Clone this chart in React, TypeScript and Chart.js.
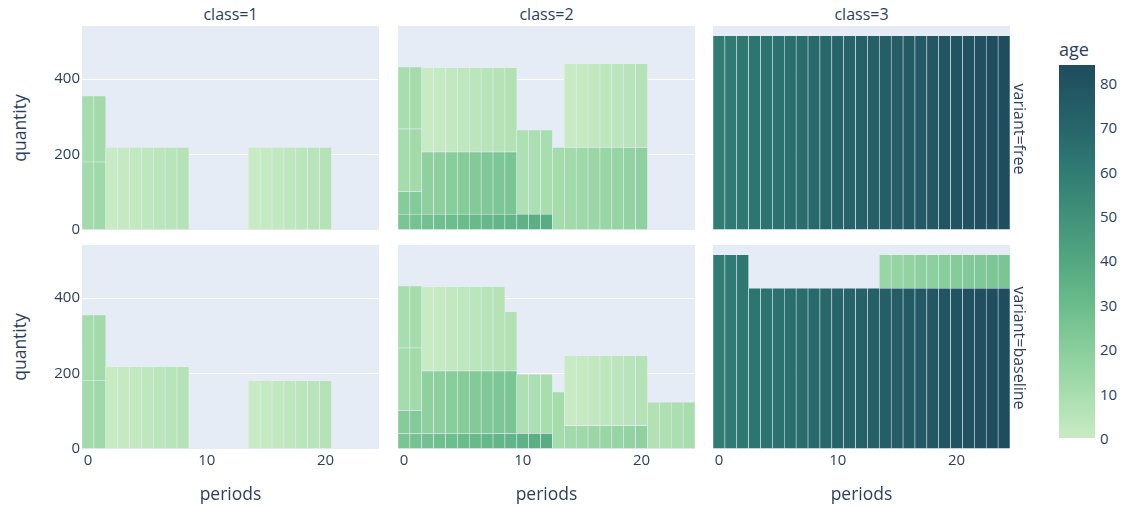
import React, { useEffect, useRef } from 'react';
import { Chart, registerables } from 'chart.js';

Chart.register(...registerables);
Chart.defaults.font.family = "'Open Sans', verdana, arial, sans-serif";

const n = null;

// ---- categories & labels ----
const PERIODS = ['0', '1', '2', '3', '4', '5', '6', '7', '8', '9', '10', '11', '12', '13', '14', '15', '16', '17', '18', '19', '20', '21', '22', '23', '24'];
const X_TICK_LABELS = ['0', '10', '20'];
const Y_TICK_VALUES = [0, 200, 400];
const AGE_TICK_VALUES = [0, 10, 20, 30, 40, 50, 60, 70, 80];
const CLASS_LABELS = ['class=1', 'class=2', 'class=3'];
const VARIANT_LABELS = ['variant=free', 'variant=baseline'];

// ---- class 1, variant free ----
const c1FreeQty1 = [180, 180, 219, 219, 219, 219, 219, 219, 219, n, n, n, n, n, 219, 219, 219, 219, 219, 219, 219, n, n, n, n];
const c1FreeAge1 = [12, 13, 0, 1, 2, 3, 4, 5, 6, n, n, n, n, n, 0, 1, 2, 3, 4, 5, 6, n, n, n, n];
const c1FreeQty2 = [175, 175, n, n, n, n, n, n, n, n, n, n, n, n, n, n, n, n, n, n, n, n, n, n, n];
const c1FreeAge2 = [11, 12, n, n, n, n, n, n, n, n, n, n, n, n, n, n, n, n, n, n, n, n, n, n, n];

// ---- class 1, variant baseline ----
const c1BaseQty1 = [181, 181, 218, 218, 218, 218, 218, 218, 218, n, n, n, n, n, 181, 181, 181, 181, 181, 181, 181, n, n, n, n];
const c1BaseAge1 = [12, 13, 0, 1, 2, 3, 4, 5, 6, n, n, n, n, n, 0, 1, 2, 3, 4, 5, 6, n, n, n, n];
const c1BaseQty2 = [174, 174, n, n, n, n, n, n, n, n, n, n, n, n, n, n, n, n, n, n, n, n, n, n, n];
const c1BaseAge2 = [11, 12, n, n, n, n, n, n, n, n, n, n, n, n, n, n, n, n, n, n, n, n, n, n, n];

// ---- class 2, variant free ----
const c2FreeQty1 = [42, 42, 42, 42, 42, 42, 42, 42, 42, 42, 42, 42, 42, 219, 219, 219, 219, 219, 219, 219, 219, n, n, n, n];
const c2FreeAge1 = [25, 26, 27, 28, 29, 30, 31, 32, 33, 34, 35, 36, 37, 11, 12, 13, 14, 15, 16, 17, 18, n, n, n, n];
const c2FreeQty2 = [60, 60, 165, 165, 165, 165, 165, 165, 165, 165, 223, 223, 223, n, 222, 222, 222, 222, 222, 222, 222, n, n, n, n];
const c2FreeAge2 = [21, 22, 18, 19, 20, 21, 22, 23, 24, 25, 8, 9, 10, n, 0, 1, 2, 3, 4, 5, 6, n, n, n, n];
const c2FreeQty3 = [166, 166, 223, 223, 223, 223, 223, 223, 223, 223, n, n, n, n, n, n, n, n, n, n, n, n, n, n, n];
const c2FreeAge3 = [11, 12, 0, 1, 2, 3, 4, 5, 6, 7, n, n, n, n, n, n, n, n, n, n, n, n, n, n, n];
const c2FreeQty4 = [164, 164, n, n, n, n, n, n, n, n, n, n, n, n, n, n, n, n, n, n, n, n, n, n, n];
const c2FreeAge4 = [10, 11, n, n, n, n, n, n, n, n, n, n, n, n, n, n, n, n, n, n, n, n, n, n, n];

// ---- class 2, variant baseline ----
const c2BaseQty1 = [41, 41, 41, 41, 41, 41, 41, 41, 41, 41, 41, 41, 41, 151, 62, 62, 62, 62, 62, 62, 62, 124, 124, 124, 124];
const c2BaseAge1 = [25, 26, 27, 28, 29, 30, 31, 32, 33, 34, 35, 36, 37, 11, 12, 13, 14, 15, 16, 17, 18, 7, 8, 9, 10];
const c2BaseQty2 = [61, 61, 166, 166, 166, 166, 166, 166, 166, 166, 157, 157, 157, n, 185, 185, 185, 185, 185, 185, 185, n, n, n, n];
const c2BaseAge2 = [21, 22, 18, 19, 20, 21, 22, 23, 24, 25, 8, 9, 10, n, 0, 1, 2, 3, 4, 5, 6, n, n, n, n];
const c2BaseQty3 = [166, 166, 223, 223, 223, 223, 223, 223, 223, 157, n, n, n, n, n, n, n, n, n, n, n, n, n, n, n];
const c2BaseAge3 = [11, 12, 0, 1, 2, 3, 4, 5, 6, 7, n, n, n, n, n, n, n, n, n, n, n, n, n, n, n];
const c2BaseQty4 = [164, 164, n, n, n, n, n, n, n, n, n, n, n, n, n, n, n, n, n, n, n, n, n, n, n];
const c2BaseAge4 = [10, 11, n, n, n, n, n, n, n, n, n, n, n, n, n, n, n, n, n, n, n, n, n, n, n];

// ---- class 3, variant free ----
const c3FreeQty1 = [515, 515, 515, 515, 515, 515, 515, 515, 515, 515, 515, 515, 515, 515, 515, 515, 515, 515, 515, 515, 515, 515, 515, 515, 515];
const c3FreeAge1 = [60, 61, 62, 63, 64, 65, 66, 67, 68, 69, 70, 71, 72, 73, 74, 75, 76, 77, 78, 79, 80, 81, 82, 83, 84];

// ---- class 3, variant baseline ----
const c3BaseQty1 = [515, 515, 515, 426, 426, 426, 426, 426, 426, 426, 426, 426, 426, 426, 426, 426, 426, 426, 426, 426, 426, 426, 426, 426, 426];
const c3BaseAge1 = [60, 61, 62, 63, 64, 65, 66, 67, 68, 69, 70, 71, 72, 73, 74, 75, 76, 77, 78, 79, 80, 81, 82, 83, 84];
const c3BaseQty2 = [n, n, n, n, n, n, n, n, n, n, n, n, n, n, 89, 89, 89, 89, 89, 89, 89, 89, 89, 89, 89];
const c3BaseAge2 = [n, n, n, n, n, n, n, n, n, n, n, n, n, n, 15, 16, 17, 18, 19, 20, 21, 22, 23, 24, 25];

// ---- colour scale (age -> colour) ----
const AGE_COLOR_STOPS: [number, number, number, number][] = [
  [0, 200, 235, 195],
  [10, 168, 221, 174],
  [20, 136, 206, 155],
  [30, 106, 188, 139],
  [40, 82, 167, 128],
  [50, 65, 145, 121],
  [60, 48, 124, 115],
  [70, 38, 102, 106],
  [80, 33, 83, 97],
  [85, 30, 76, 93],
];

type Layer = { q: (number | null)[]; a: (number | null)[] };

const PANELS: Layer[][][] = [
  [
    [{ q: c1FreeQty1, a: c1FreeAge1 }, { q: c1FreeQty2, a: c1FreeAge2 }],
    [{ q: c2FreeQty1, a: c2FreeAge1 }, { q: c2FreeQty2, a: c2FreeAge2 }, { q: c2FreeQty3, a: c2FreeAge3 }, { q: c2FreeQty4, a: c2FreeAge4 }],
    [{ q: c3FreeQty1, a: c3FreeAge1 }],
  ],
  [
    [{ q: c1BaseQty1, a: c1BaseAge1 }, { q: c1BaseQty2, a: c1BaseAge2 }],
    [{ q: c2BaseQty1, a: c2BaseAge1 }, { q: c2BaseQty2, a: c2BaseAge2 }, { q: c2BaseQty3, a: c2BaseAge3 }, { q: c2BaseQty4, a: c2BaseAge4 }],
    [{ q: c3BaseQty1, a: c3BaseAge1 }, { q: c3BaseQty2, a: c3BaseAge2 }],
  ],
];

// derived ranges
let maxTotal = 0;
let minAge = Infinity;
let maxAge = -Infinity;
PANELS.forEach((row) => row.forEach((layers) => {
  for (let i = 0; i < PERIODS.length; i++) {
    let t = 0;
    layers.forEach((l) => { t += l.q[i] ?? 0; });
    maxTotal = Math.max(maxTotal, t);
  }
  layers.forEach((l) => l.a.forEach((v) => { if (v != null) { minAge = Math.min(minAge, v); maxAge = Math.max(maxAge, v); } }));
}));
const Y_MAX = maxTotal * 1.05;

function ageColor(age: number): string {
  const s = AGE_COLOR_STOPS;
  if (age <= s[0][0]) return `rgb(${s[0][1]},${s[0][2]},${s[0][3]})`;
  for (let i = 1; i < s.length; i++) {
    if (age <= s[i][0]) {
      const t = (age - s[i - 1][0]) / (s[i][0] - s[i - 1][0]);
      const c = [1, 2, 3].map((k) => Math.round(s[i - 1][k] + t * (s[i][k] - s[i - 1][k])));
      return `rgb(${c[0]},${c[1]},${c[2]})`;
    }
  }
  const l = s[s.length - 1];
  return `rgb(${l[1]},${l[2]},${l[3]})`;
}

// ---- layout ----
const PLOT_W = 297;
const PLOT_H = 204;
const COL_LEFT = [82, 398, 713];
const ROW_TOP = [26, 245];
const TEXT = '#2a3f5f';
const BG = '#E5ECF6';
const CB_LEFT = 1059;
const CB_WIDTH = 36;
const CB_TOP = 65;
const CB_BOTTOM = 438;
const TICK_SIZE = 15;

const bgPlugin = {
  id: 'plotBg',
  beforeDraw(chart: any) {
    const { ctx, chartArea } = chart;
    ctx.save();
    ctx.fillStyle = BG;
    ctx.fillRect(chartArea.left, chartArea.top, chartArea.right - chartArea.left, chartArea.bottom - chartArea.top);
    ctx.restore();
  },
};

function Panel({ row, col }: { row: number; col: number }) {
  const ref = useRef<HTMLCanvasElement>(null);
  const showY = col === 0;
  const showX = row === 1;
  const L = showY ? 50 : 0;
  const B = showX ? 36 : 12;
  const w = PLOT_W + L;
  const h = PLOT_H + B;
  useEffect(() => {
    const layers = PANELS[row][col];
    const chart = new Chart(ref.current as HTMLCanvasElement, {
      type: 'bar',
      data: {
        labels: PERIODS,
        datasets: layers.map((l) => ({
          data: l.q as any,
          backgroundColor: l.a.map((a) => (a == null ? 'rgba(0,0,0,0)' : ageColor(a))),
          borderColor: BG,
          borderWidth: 0.6,
          borderSkipped: false,
          categoryPercentage: 1,
          barPercentage: 1,
        })),
      },
      options: {
        responsive: false,
        animation: false,
        devicePixelRatio: 1,
        events: [],
        layout: { padding: 0 },
        plugins: { legend: { display: false }, tooltip: { enabled: false } },
        scales: {
          x: {
            stacked: true,
            grid: { display: false, drawTicks: false },
            border: { display: false },
            ticks: {
              display: showX,
              autoSkip: false,
              maxRotation: 0,
              padding: 3,
              color: TEXT,
              font: { size: TICK_SIZE },
              callback: (_v: any, i: number) => (X_TICK_LABELS.includes(PERIODS[i]) ? PERIODS[i] : ''),
            },
            afterFit: (s: any) => { s.height = B; s.paddingLeft = 0; s.paddingRight = 0; },
          },
          y: {
            stacked: true,
            min: 0,
            max: Y_MAX,
            grid: { color: '#ffffff', lineWidth: 1, drawTicks: false },
            border: { display: false },
            ticks: { display: showY, padding: 2, color: TEXT, font: { size: TICK_SIZE } },
            afterBuildTicks: (s: any) => { s.ticks = Y_TICK_VALUES.map((v) => ({ value: v })); },
            afterFit: (s: any) => { s.width = L; s.paddingTop = 0; s.paddingBottom = 0; },
          },
        },
      } as any,
      plugins: [bgPlugin],
    });
    return () => chart.destroy();
  }, []);
  return (
    <canvas
      ref={ref}
      width={w}
      height={h}
      style={{ position: 'absolute', left: COL_LEFT[col] - L, top: ROW_TOP[row], width: w, height: h }}
    />
  );
}

function Txt({ x, y, size, rot = 0, children, left = false }: { x: number; y: number; size: number; rot?: number; children: React.ReactNode; left?: boolean }) {
  return (
    <div
      style={{
        position: 'absolute',
        left: x,
        top: y,
        transform: `${left ? 'translate(0,-50%)' : 'translate(-50%,-50%)'} rotate(${rot}deg)`,
        fontSize: size,
        lineHeight: 1,
        whiteSpace: 'nowrap',
      }}
    >
      {children}
    </div>
  );
}

export default function App() {
  const cbMin = Math.min(0, minAge);
  const cbMax = maxAge;
  const gradStops = AGE_COLOR_STOPS.filter((s) => s[0] <= cbMax)
    .map((s) => `${ageColor(s[0])} ${((s[0] - cbMin) / (cbMax - cbMin)) * 100}%`)
    .concat([`${ageColor(cbMax)} 100%`])
    .join(', ');
  const cbY = (v: number) => CB_BOTTOM - ((v - cbMin) / (cbMax - cbMin)) * (CB_BOTTOM - CB_TOP);
  return (
    <div
      style={{
        position: 'absolute', left: 0, top: 0, width: 1124, height: 506, background: '#fff', overflow: 'hidden',
        fontFamily: "'Open Sans', verdana, arial, sans-serif", color: TEXT,
      }}
    >
      {[0, 1].map((r) => [0, 1, 2].map((c) => <Panel key={`${r}-${c}`} row={r} col={c} />))}
      {CLASS_LABELS.map((t, c) => (
        <Txt key={t} x={COL_LEFT[c] + PLOT_W / 2} y={14} size={16}>{t}</Txt>
      ))}
      {VARIANT_LABELS.map((t, r) => (
        <Txt key={t} x={1020} y={ROW_TOP[r] + PLOT_H / 2 + 1} size={16} rot={90}>{t}</Txt>
      ))}
      {[0, 1].map((r) => (
        <Txt key={`q${r}`} x={20} y={ROW_TOP[r] + PLOT_H / 2} size={17.5} rot={-90}>quantity</Txt>
      ))}
      {[0, 1, 2].map((c) => (
        <Txt key={`p${c}`} x={COL_LEFT[c] + PLOT_W / 2} y={494} size={17.5}>periods</Txt>
      ))}
      <div
        style={{
          position: 'absolute', left: CB_LEFT, top: CB_TOP, width: CB_WIDTH, height: CB_BOTTOM - CB_TOP,
          background: `linear-gradient(to top, ${gradStops})`,
        }}
      />
      <Txt x={1059} y={49} size={18} left>age</Txt>
      {AGE_TICK_VALUES.filter((v) => v <= cbMax).map((v) => (
        <Txt key={`a${v}`} x={1100} y={cbY(v)} size={15} left>{String(v)}</Txt>
      ))}
    </div>
  );
}
